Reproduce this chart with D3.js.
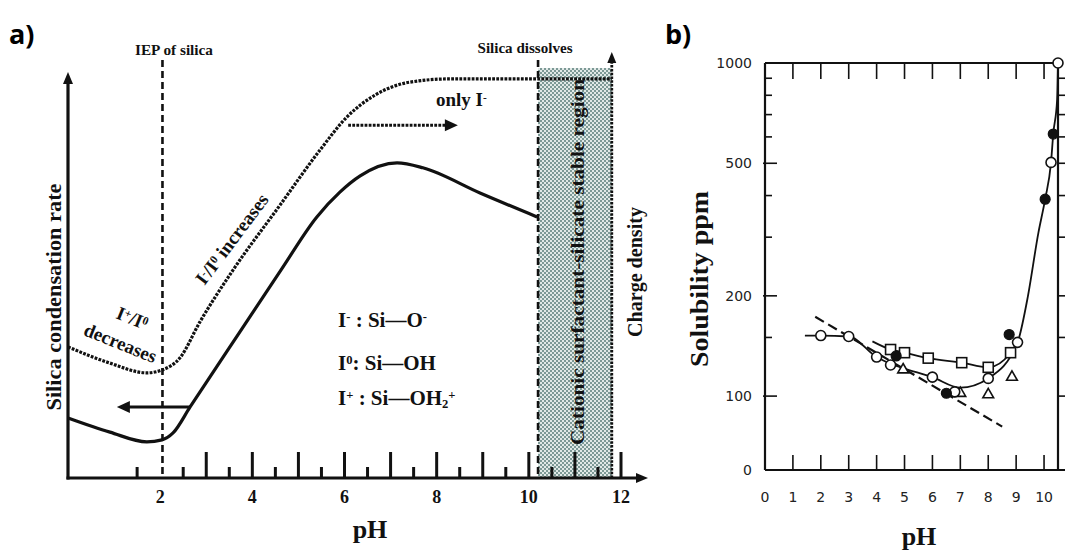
<!DOCTYPE html>
<html lang="en">
<head>
<meta charset="utf-8" />
<title>Silica condensation rate and solubility vs pH</title>
<script src="https://d3js.org/d3.v7.min.js"></script>
<style>
  html, body { margin: 0; padding: 0; background: #fff; overflow: hidden; }
  svg { display: block; }
  .serif { font-family: "Liberation Serif", "DejaVu Serif", serif; font-weight: bold; fill: #111; }
  .hand  { font-family: "DejaVu Sans", sans-serif; fill: #222; }
  .tag   { font-family: "Open Sans", Lato, sans-serif; font-weight: 700; fill: #000; }
</style>
</head>
<body>
<script>
/* ---------- panel a data (schematic) ---------- */
const phLabelsA = [2, 4, 6, 8, 10, 12];
const tallTicksA = [3, 4, 5, 6, 7, 8, 9, 10, 11, 12];
const shortTicksA = [1.5, 2.5, 3.5, 4.5, 5.5, 6.5, 7.5, 8.5, 9.5, 10.5, 11.5];

// solid curve: silica condensation rate
const solidPH  = [0, 0.91, 1.71, 2.04, 2.28, 2.65, 3.73, 4.62, 5.40, 5.90, 6.34, 7.14, 7.70, 8.94, 10.18];
const solidVal = [14.8, 11.3, 8.9, 9.4, 11.1, 17.5, 36.0, 51.2, 64.3, 70.4, 74.4, 77.6, 76.4, 70.2, 64.3];

// dotted curve: charge density
const dottedPH  = [0, 0.91, 1.71, 2.04, 2.43, 2.86, 3.58, 4.60, 5.47, 6.05, 6.66, 7.42, 8.29, 11.8];
const dottedVal = [32.3, 28.3, 25.9, 26.6, 29.6, 38.4, 51.2, 67.2, 80.8, 88.9, 94.3, 97.5, 98.3, 98.3];

const iepPH = 2.05;        // IEP of silica
const dissolvePH = 10.2;   // silica dissolves
const stableEndPH = 11.8;  // end of stable region / charge density axis
const leftArrow = { from: 2.65, to: 1.06, val: 17.5 };
const rightArrow = { from: 6.08, to: 8.46, val: 86.9 };

/* ---------- panel b data (solubility ppm vs pH) ---------- */
const phLabelsB = [0, 1, 2, 3, 4, 5, 6, 7, 8, 9, 10];
const yLabelsB = [100, 200, 500, 1000];
const yMinorB = [150, 300, 400, 600, 700, 800, 900];

const openPH   = [2, 3, 4, 4.5, 6, 6.8, 8, 9.05, 10.25, 10.5];
const openVal  = [152, 151, 131, 124, 114, 103, 113, 145, 503, 1000];
const filledPH  = [4.7, 6.5, 8.75, 10.04, 10.33];
const filledVal = [132, 102, 153, 390, 612];
const squarePH  = [4.5, 5.0, 5.85, 7.05, 8.0, 8.8];
const squareVal = [138, 135, 130, 126, 122, 135];
const trianglePH  = [4.95, 7.0, 8.0, 8.85];
const triangleVal = [120, 102, 101, 114];

const curveOpenPH  = [1.43, 2, 3, 4, 4.5, 5, 6, 7, 8, 9.05, 9.4, 9.8, 10.04, 10.25, 10.33, 10.47, 10.5];
const curveOpenVal = [152, 152, 151, 131, 125, 121, 114, 106, 113, 145, 195, 310, 390, 503, 612, 780, 1000];
const curveSquarePH  = [3.85, 4.5, 5.0, 5.85, 7.05, 8.0, 8.8, 9.05];
const curveSquareVal = [146, 138, 135, 130, 126, 122, 135, 145];
const dashPH  = [1.8, 8.5];
const dashVal = [173, 81];

/* ---------- svg ---------- */
const W = 1065, H = 553;
const svg = d3.select("body").append("svg").attr("width", W).attr("height", H);

const defs = svg.append("defs");
const pat = defs.append("pattern").attr("id", "dots")
  .attr("width", 4).attr("height", 4).attr("patternUnits", "userSpaceOnUse");
pat.append("rect").attr("width", 4).attr("height", 4).attr("fill", "#e1e9e7");
pat.append("rect").attr("width", 2).attr("height", 2).attr("fill", "#7d9996");
pat.append("rect").attr("x", 2).attr("y", 2).attr("width", 2).attr("height", 2).attr("fill", "#7d9996");

function arrowHead(g, x, y, dir, len = 12, half = 5) {
  // dir: "up", "left", "right"
  let pts;
  if (dir === "up") pts = [[x, y], [x - half, y + len], [x + half, y + len]];
  else if (dir === "left") pts = [[x, y], [x + len, y - half], [x + len, y + half]];
  else pts = [[x, y], [x - len, y - half], [x - len, y + half]];
  g.append("path").attr("d", "M" + pts.join("L") + "Z").attr("fill", "#111");
}

/* ================= panel a ================= */
const a = svg.append("g");
const xA = d3.scaleLinear().domain([0, 12]).range([68, 621]);
const yA = d3.scaleLinear().domain([0, 100]).range([478, 72]);

// shaded stable region
a.append("rect")
  .attr("x", xA(dissolvePH)).attr("y", 68)
  .attr("width", xA(stableEndPH) - xA(dissolvePH)).attr("height", yA(0) - 68)
  .attr("fill", "url(#dots)");

a.append("text").attr("class", "serif")
  .attr("transform", "translate(584,262) rotate(-90)")
  .attr("text-anchor", "middle")
  .attr("font-size", 19).attr("textLength", 366).attr("lengthAdjust", "spacingAndGlyphs")
  .text("Cationic surfactant-silicate stable region");

// ticks
a.selectAll(".tallTick").data(tallTicksA).enter().append("line")
  .attr("x1", d => xA(d)).attr("x2", d => xA(d))
  .attr("y1", yA(0)).attr("y2", yA(0) - 26)
  .attr("stroke", "#111").attr("stroke-width", 3);
a.selectAll(".shortTick").data(shortTicksA).enter().append("line")
  .attr("x1", d => xA(d)).attr("x2", d => xA(d))
  .attr("y1", yA(0)).attr("y2", yA(0) - 11)
  .attr("stroke", "#111").attr("stroke-width", 3);

// axes
a.append("line").attr("x1", xA(0)).attr("x2", xA(0)).attr("y1", yA(0) + 1.5).attr("y2", yA(100) + 10)
  .attr("stroke", "#111").attr("stroke-width", 3.2);
arrowHead(a, xA(0), yA(100), "up");
a.append("line").attr("x1", xA(0) - 1.5).attr("x2", 638).attr("y1", yA(0)).attr("y2", yA(0))
  .attr("stroke", "#111").attr("stroke-width", 3.2);
arrowHead(a, 648, yA(0), "right");

a.selectAll(".lab").data(phLabelsA).enter().append("text")
  .attr("class", "serif").attr("font-size", 18).attr("text-anchor", "middle")
  .attr("x", d => xA(d)).attr("y", 503).text(d => d);

a.append("text").attr("class", "serif").attr("font-size", 26).attr("text-anchor", "middle")
  .attr("x", 370).attr("y", 538).text("pH");

a.append("text").attr("class", "serif")
  .attr("transform", "translate(61,297) rotate(-90)").attr("text-anchor", "middle")
  .attr("font-size", 21).attr("textLength", 227).attr("lengthAdjust", "spacingAndGlyphs")
  .text("Silica condensation rate");

// vertical reference lines
a.append("line").attr("x1", xA(iepPH)).attr("x2", xA(iepPH)).attr("y1", 60).attr("y2", yA(0))
  .attr("stroke", "#111").attr("stroke-width", 2.6).attr("stroke-dasharray", "7,4");
a.append("line").attr("x1", xA(dissolvePH)).attr("x2", xA(dissolvePH)).attr("y1", 60).attr("y2", yA(0))
  .attr("stroke", "#111").attr("stroke-width", 2.6).attr("stroke-dasharray", "7,4");
a.append("line").attr("x1", xA(stableEndPH)).attr("x2", xA(stableEndPH)).attr("y1", yA(0)).attr("y2", 62)
  .attr("stroke", "#111").attr("stroke-width", 2.8).attr("stroke-dasharray", "2.5,1.3");
arrowHead(a, xA(stableEndPH), 52, "up", 11, 4.5);

a.append("text").attr("class", "serif").attr("font-size", 15).attr("text-anchor", "middle")
  .attr("x", 174).attr("y", 55).attr("textLength", 78).attr("lengthAdjust", "spacingAndGlyphs")
  .text("IEP of silica");
a.append("text").attr("class", "serif").attr("font-size", 15).attr("text-anchor", "middle")
  .attr("x", 525).attr("y", 53).attr("textLength", 95).attr("lengthAdjust", "spacingAndGlyphs")
  .text("Silica dissolves");

a.append("text").attr("class", "serif")
  .attr("transform", "translate(642,272) rotate(-90)").attr("text-anchor", "middle")
  .attr("font-size", 20).attr("textLength", 130).attr("lengthAdjust", "spacingAndGlyphs")
  .text("Charge density");

// curves
const lineA = d3.line().x(d => xA(d[0])).y(d => yA(d[1])).curve(d3.curveMonotoneX);
a.append("path").attr("d", lineA(d3.zip(solidPH, solidVal)))
  .attr("fill", "none").attr("stroke", "#111").attr("stroke-width", 3.2);
a.append("path").attr("d", lineA(d3.zip(dottedPH, dottedVal)))
  .attr("fill", "none").attr("stroke", "#111").attr("stroke-width", 3.2).attr("stroke-dasharray", "2.8,1.3");

// arrows
a.append("line").attr("x1", xA(leftArrow.from)).attr("x2", xA(leftArrow.to) + 10)
  .attr("y1", yA(leftArrow.val)).attr("y2", yA(leftArrow.val))
  .attr("stroke", "#111").attr("stroke-width", 3);
arrowHead(a, xA(leftArrow.to), yA(leftArrow.val), "left", 13, 6);
a.append("line").attr("x1", xA(rightArrow.from)).attr("x2", xA(rightArrow.to) - 10)
  .attr("y1", yA(rightArrow.val)).attr("y2", yA(rightArrow.val))
  .attr("stroke", "#111").attr("stroke-width", 3).attr("stroke-dasharray", "2.8,1.3");
arrowHead(a, xA(rightArrow.to), yA(rightArrow.val), "right", 13, 6);

// annotations
function supText(sel, parts) {
  parts.forEach(p => {
    const t = sel.append("tspan").text(p.t);
    if (p.s === "sup") t.attr("font-size", "0.6em").attr("baseline-shift", "45%");
    if (p.s === "sub") t.attr("font-size", "0.6em").attr("baseline-shift", "-25%");
  });
}
supText(a.append("text").attr("class", "serif").attr("font-size", 19).attr("x", 436).attr("y", 106),
  [{ t: "only I" }, { t: "-", s: "sup" }]);

supText(a.append("text").attr("class", "serif").attr("font-size", 19).attr("text-anchor", "middle")
  .attr("transform", "translate(237,243) rotate(-53)"),
  [{ t: "I" }, { t: "-", s: "sup" }, { t: "/I" }, { t: "0", s: "sup" }, { t: " increases" }]);

supText(a.append("text").attr("class", "serif").attr("font-size", 19).attr("text-anchor", "middle")
  .attr("transform", "translate(130,324) rotate(22)"),
  [{ t: "I" }, { t: "+", s: "sup" }, { t: "/I" }, { t: "0", s: "sup" }]);
a.append("text").attr("class", "serif").attr("font-size", 19).attr("text-anchor", "middle")
  .attr("transform", "translate(118,349) rotate(22)").text("decreases");

supText(a.append("text").attr("class", "serif").attr("font-size", 21).attr("x", 338).attr("y", 327),
  [{ t: "I" }, { t: "-", s: "sup" }, { t: " : Si—O" }, { t: "-", s: "sup" }]);
supText(a.append("text").attr("class", "serif").attr("font-size", 21).attr("x", 338).attr("y", 370),
  [{ t: "I" }, { t: "0", s: "sup" }, { t: ":  Si—OH" }]);
supText(a.append("text").attr("class", "serif").attr("font-size", 21).attr("x", 338).attr("y", 405),
  [{ t: "I" }, { t: "+", s: "sup" }, { t: " : Si—OH" }, { t: "2", s: "sub" }, { t: "+", s: "sup" }]);

svg.append("text").attr("class", "tag").attr("font-size", 27).attr("x", 9).attr("y", 44).text("a)");
svg.append("text").attr("class", "tag").attr("font-size", 27).attr("x", 665).attr("y", 44).text("b)");

/* ================= panel b ================= */
const b = svg.append("g");
const xB = d3.scaleLinear().domain([0, 10.5]).range([765, 1058]);
const yB = d3.scaleLog().domain([60, 1000]).range([470, 63]);
const stroke = "#111";

// frame
b.append("line").attr("x1", xB(0)).attr("x2", xB(0)).attr("y1", yB(60)).attr("y2", yB(1000)).attr("stroke", stroke).attr("stroke-width", 2.2);
b.append("line").attr("x1", xB(0)).attr("x2", xB(10.5)).attr("y1", yB(1000)).attr("y2", yB(1000)).attr("stroke", stroke).attr("stroke-width", 2.2);
b.append("line").attr("x1", xB(10.5)).attr("x2", xB(10.5)).attr("y1", yB(1000)).attr("y2", yB(60)).attr("stroke", stroke).attr("stroke-width", 2.2);
b.append("line").attr("x1", xB(0)).attr("x2", W).attr("y1", yB(60)).attr("y2", yB(60)).attr("stroke", stroke).attr("stroke-width", 2.2);

// x ticks (bottom up, top down)
const xt = phLabelsB.filter(d => d > 0);
b.selectAll(".bt").data(xt).enter().append("line")
  .attr("x1", d => xB(d)).attr("x2", d => xB(d)).attr("y1", yB(60)).attr("y2", yB(60) - 15)
  .attr("stroke", stroke).attr("stroke-width", 1.6);
b.selectAll(".tt").data(xt).enter().append("line")
  .attr("x1", d => xB(d)).attr("x2", d => xB(d)).attr("y1", yB(1000)).attr("y2", yB(1000) + 16)
  .attr("stroke", stroke).attr("stroke-width", 1.6);
b.selectAll(".xl").data(phLabelsB).enter().append("text")
  .attr("class", "hand").attr("font-size", 14).attr("text-anchor", "middle")
  .attr("x", d => xB(d)).attr("y", 502).text(d => d);

// y ticks
b.selectAll(".ym").data(yLabelsB.slice(0, 3)).enter().append("line")
  .attr("x1", xB(0) - 2).attr("x2", xB(0) + 12).attr("y1", d => yB(d)).attr("y2", d => yB(d))
  .attr("stroke", stroke).attr("stroke-width", 1.6);
b.selectAll(".yn").data(yMinorB).enter().append("line")
  .attr("x1", xB(0)).attr("x2", xB(0) + 7).attr("y1", d => yB(d)).attr("y2", d => yB(d))
  .attr("stroke", stroke).attr("stroke-width", 1.6);
b.selectAll(".yr").data(yLabelsB.slice(0, 3).concat(yMinorB)).enter().append("line")
  .attr("x1", xB(10.5)).attr("x2", xB(10.5) + 8).attr("y1", d => yB(d)).attr("y2", d => yB(d))
  .attr("stroke", stroke).attr("stroke-width", 1.6);
b.selectAll(".yl").data(yLabelsB).enter().append("text")
  .attr("class", "hand").attr("font-size", 14).attr("text-anchor", "end")
  .attr("x", 752).attr("y", d => yB(d) + 5).text(d => d);
b.append("text").attr("class", "hand").attr("font-size", 14).attr("text-anchor", "end")
  .attr("x", 752).attr("y", yB(60) + 5).text("0");

b.append("text").attr("class", "serif")
  .attr("transform", "translate(708,279) rotate(-90)").attr("text-anchor", "middle")
  .attr("font-size", 26).attr("textLength", 176).attr("lengthAdjust", "spacingAndGlyphs")
  .text("Solubility ppm");
b.append("text").attr("class", "serif").attr("font-size", 26).attr("text-anchor", "middle")
  .attr("x", 919).attr("y", 545).text("pH");

// lines
const lineB = d3.line().x(d => xB(d[0])).y(d => yB(d[1]));
b.append("path").attr("d", lineB(d3.zip(dashPH, dashVal)))
  .attr("fill", "none").attr("stroke", stroke).attr("stroke-width", 2.2).attr("stroke-dasharray", "10,5");
b.append("path").attr("d", lineB.curve(d3.curveMonotoneX)(d3.zip(curveOpenPH, curveOpenVal)))
  .attr("fill", "none").attr("stroke", stroke).attr("stroke-width", 1.8);
b.append("path").attr("d", lineB.curve(d3.curveMonotoneX)(d3.zip(curveSquarePH, curveSquareVal)))
  .attr("fill", "none").attr("stroke", stroke).attr("stroke-width", 1.8);

// markers
b.selectAll(".sq").data(d3.zip(squarePH, squareVal)).enter().append("rect")
  .attr("x", d => xB(d[0]) - 5).attr("y", d => yB(d[1]) - 5).attr("width", 10).attr("height", 10)
  .attr("fill", "#fff").attr("stroke", stroke).attr("stroke-width", 1.6);
b.selectAll(".tri").data(d3.zip(trianglePH, triangleVal)).enter().append("path")
  .attr("d", d3.symbol().type(d3.symbolTriangle).size(50))
  .attr("transform", d => `translate(${xB(d[0])},${yB(d[1])})`)
  .attr("fill", "#fff").attr("stroke", stroke).attr("stroke-width", 1.6);
b.selectAll(".oc").data(d3.zip(openPH, openVal)).enter().append("circle")
  .attr("cx", d => xB(d[0])).attr("cy", d => yB(d[1])).attr("r", 5)
  .attr("fill", "#fff").attr("stroke", stroke).attr("stroke-width", 1.6);
b.selectAll(".fc").data(d3.zip(filledPH, filledVal)).enter().append("circle")
  .attr("cx", d => xB(d[0])).attr("cy", d => yB(d[1])).attr("r", 5)
  .attr("fill", "#111").attr("stroke", stroke).attr("stroke-width", 1.2);
</script>
</body>
</html>
